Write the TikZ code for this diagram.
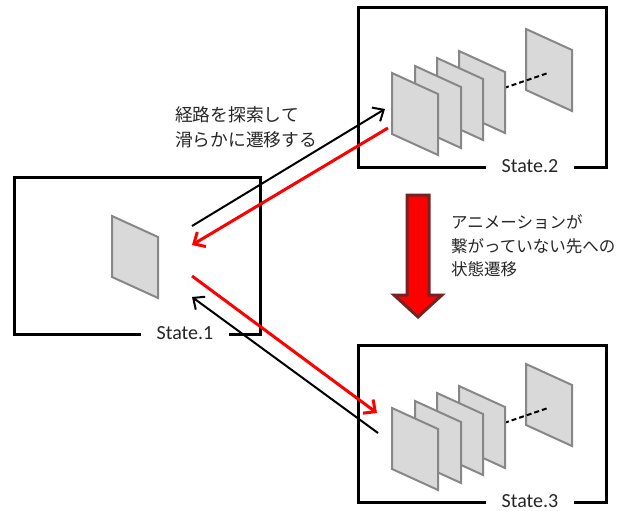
\documentclass[tikz,border=0pt]{standalone}
\usepackage{fontspec}
\setmainfont{Carlito}
\newfontfamily\jpfont{Noto Sans CJK JP}
\usetikzlibrary{arrows.meta}
\definecolor{panelfill}{HTML}{D9D9D9}
\definecolor{paneledge}{HTML}{878787}
\definecolor{bigred}{HTML}{FF0000}
\definecolor{bigedge}{HTML}{772222}
\definecolor{txt}{HTML}{262626}
\tikzset{
  statelabel/.style={fill=white, inner xsep=16pt, inner ysep=0pt, font=\fontsize{20}{24}\selectfont, text=txt},
  panelshape/.style={fill=panelfill, draw=paneledge, line width=2pt, line join=miter},
  blackarrow/.style={draw=black, line width=2pt, -{Straight Barb[length=9pt,width=16pt]}},
  redarrow/.style={draw=red, line width=3pt, -{Straight Barb[length=9pt,width=17pt]}},
  dashline/.style={draw=black, line width=2pt, dash pattern=on 5pt off 3pt},
  jptext/.style={anchor=west, inner sep=0pt, align=left, text=txt},
  pics/panel/.style={code={
    \path[panelshape] (0,0) -- (46,21) -- (46,82) -- (0,61) -- cycle;
  }}
}
\newcommand{\panelstack}[1]{%
  \begin{scope}[yshift=#1]
    \pic at (526,29) {panel};
    \draw[dashline] (504,88) -- (548,73);
    \pic at (459,51) {panel};
    \pic at (437,58) {panel};
    \pic at (415,66) {panel};
    \pic at (392,73) {panel};
  \end{scope}}
\begin{document}
\begin{tikzpicture}[x=1pt,y=-1pt]
\useasboundingbox (0,0) rectangle (643,511);
% boxes
\draw[line width=3pt] (14,177) rectangle (260,334);
\draw[line width=3pt] (358,8) rectangle (606,167);
\draw[line width=3pt] (358,345) rectangle (606,502);
\node[statelabel] (l1) at (185,333) {State.1};
\node[statelabel] (l2) at (530,166) {State.2};
\node[statelabel] (l3) at (530,501) {State.3};
% panels
\pic at (112,216) {panel};
\panelstack{0pt}
\panelstack{-335pt}
% connectors
\coordinate (a1s) at (192,226);
\coordinate (a1e) at (385,109);
\coordinate (r1s) at (388,128);
\coordinate (r1e) at (192,245);
\coordinate (r2s) at (192,276);
\coordinate (r2e) at (377,413);
\coordinate (a2s) at (378,433);
\coordinate (a2e) at (192,297);
\draw[blackarrow] (a1s) -- (a1e);
\draw[redarrow] (r1s) -- (r1e);
\draw[redarrow] (r2s) -- (r2e);
\draw[blackarrow] (a2s) -- (a2e);
% big arrow
\path[fill=bigred, draw=bigedge, line width=3pt, line join=miter]
  (407,195) -- (429,195) -- (429,295) -- (442,295) -- (418,317) -- (394,295) -- (407,295) -- cycle;
% texts
\node[jptext, font=\jpfont\fontsize{17.75}{25}\selectfont] (t1) at (175,127.5) {経路を探索して\\滑らかに遷移する};
\node[jptext, font=\jpfont\fontsize{16.5}{23.5}\selectfont] (t2) at (451,246) {アニメーションが\\繋がっていない先への\\状態遷移};
\end{tikzpicture}
\end{document}
